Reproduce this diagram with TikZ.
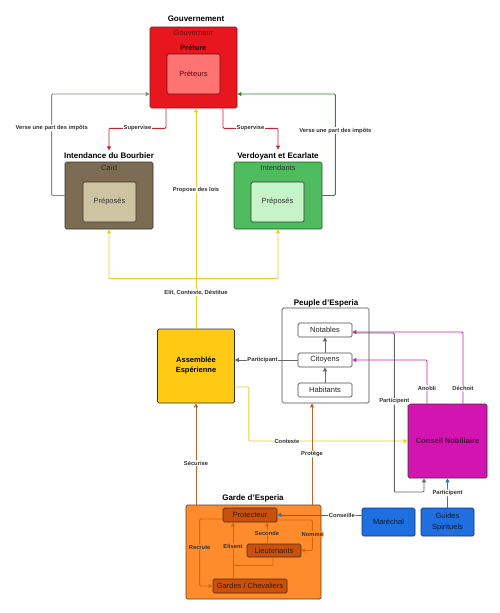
\documentclass[tikz,border=0pt]{standalone}
\usepackage{fontspec}
\setmainfont{Liberation Sans}
\usetikzlibrary{arrows.meta,calc}
\definecolor{gred}{HTML}{E8161E}
\definecolor{gredb}{HTML}{8E1014}
\definecolor{gredin}{HTML}{FF7373}
\definecolor{gbrown}{HTML}{7D6C54}
\definecolor{gbrownin}{HTML}{CFC4A2}
\definecolor{ggreen}{HTML}{4DBB5E}
\definecolor{ggreenin}{HTML}{C6F3C8}
\definecolor{gyel}{HTML}{FFC914}
\definecolor{gyline}{HTML}{EDCB2A}
\definecolor{gmag}{HTML}{D414B0}
\definecolor{gmagline}{HTML}{C225B4}
\definecolor{gblue}{HTML}{1F6FE0}
\definecolor{gblueline}{HTML}{2D6EC2}
\definecolor{gorange}{HTML}{FF8C2C}
\definecolor{gorangein}{HTML}{C9510D}
\definecolor{gorline}{HTML}{D9660A}
\definecolor{gbrline}{HTML}{B8642A}
\definecolor{gredline}{HTML}{C0282D}
\definecolor{ggreenline}{HTML}{2E8B2E}
\definecolor{ggrayline}{HTML}{8C8A7A}
\definecolor{gdark}{HTML}{333333}
\tikzset{
  tip/.style={-{Triangle[length=4pt,width=4pt]}},
  box/.style={draw, rounded corners=1.5pt, line width=0.7pt, inner sep=0pt, align=center, font=\fontsize{7.5}{9}\selectfont},
  ttl/.style={font=\bfseries\fontsize{8}{9}\selectfont, text=black, inner sep=0.5pt},
  lbl/.style={font=\bfseries\fontsize{5.8}{7}\selectfont, text=gdark, fill=white, inner sep=0.6pt},
  olbl/.style={lbl, fill=gorange},
  con/.style={line width=0.9pt, rounded corners=1pt},
}
\begin{document}
\begin{tikzpicture}[x=1pt,y=-1pt]
\useasboundingbox (0,0) rectangle (500,613);
% Gouvernement
\node[ttl] (govt) at (196,19) {Gouvernement};
\node[box, fill=gred, draw=gredb, minimum width=87pt, minimum height=81pt] (gov) at (193.5,67.5) {};
\node[font=\fontsize{7.5}{9}\selectfont, text=gredb!80!black, inner sep=0pt] (govr) at (193.5,33) {Gouverneur};
\node[font=\bfseries\fontsize{7.5}{9}\selectfont, text=black!85!red, inner sep=0pt] (pretu) at (193.5,48) {Préture};
\node[box, fill=gredin, draw=gredb!70!black, text=gredb!60!black, minimum width=53pt, minimum height=40pt] (pret) at (193.5,74) {Préteurs};
% Intendance du Bourbier
\node[ttl] (bourt) at (109,156) {Intendance du Bourbier};
\node[box, fill=gbrown, draw=gdark, minimum width=88pt, minimum height=67pt] (bour) at (109,195.5) {};
\node[font=\fontsize{7.5}{9}\selectfont, text=black!85, inner sep=0pt] (caid) at (109,168) {Caïd};
\node[box, fill=gbrownin, draw=gdark, text=black!80, minimum width=53pt, minimum height=40pt] (pre1) at (109.5,202) {Préposés};
% Verdoyant et Ecarlate
\node[ttl] (verdt) at (278,156) {Verdoyant et Ecarlate};
\node[box, fill=ggreen, draw=gdark!80!green, minimum width=88pt, minimum height=67pt] (verd) at (278,195.5) {};
\node[font=\fontsize{7.5}{9}\selectfont, text=black!80, inner sep=0pt] (inten) at (278,168) {Intendants};
\node[box, fill=ggreenin, draw=gdark, text=black!80, minimum width=53pt, minimum height=40pt] (pre2) at (277.5,202) {Préposés};
% Assemblee
\node[box, fill=gyel, draw=gdark, font=\bfseries\fontsize{7.5}{10}\selectfont, minimum width=77pt, minimum height=74pt] (ass) at (196,366) {Assemblée\\Espérienne};
% Peuple
\node[ttl] (peut) at (326,303) {Peuple d'Esperia};
\node[box, fill=white, draw=black!70, minimum width=87pt, minimum height=95pt] (peuple) at (325.5,355.5) {};
\node[box, fill=white, draw=black!70, text=black!85, minimum width=54pt, minimum height=14pt] (not) at (325,330) {Notables};
\node[box, fill=white, draw=black!70, text=black!85, minimum width=54pt, minimum height=14pt] (cit) at (325,360) {Citoyens};
\node[box, fill=white, draw=black!70, text=black!85, minimum width=54pt, minimum height=14pt] (hab) at (325,390) {Habitants};
% Conseil Nobiliaire
\node[box, fill=gmag, draw=gdark, text=gmag!35!black, font=\bfseries\fontsize{7.5}{9}\selectfont, minimum width=79pt, minimum height=74pt] (cons) at (447.5,441) {Conseil Nobiliaire};
% Marechal, Guides
\node[box, fill=gblue, draw=gblue!50!black, text=gblue!25!black, minimum width=53pt, minimum height=28pt] (mar) at (388.5,522) {Maréchal};
\node[box, fill=gblue, draw=gblue!50!black, text=gblue!25!black, font=\fontsize{7.5}{11}\selectfont, minimum width=53pt, minimum height=28pt] (gui) at (447.5,522) {Guides\\Spirituels};
% Garde
\node[ttl] (gardet) at (253,498) {Garde d'Esperia};
\node[box, fill=gorange, draw=gorange!40!black, minimum width=135pt, minimum height=94pt] (garde) at (253.5,552) {};
\node[box, fill=gorangein, draw=gorange!30!black, text=gorange!20!black, minimum width=54pt, minimum height=14pt] (prot) at (250,515) {Protecteur};
\node[box, fill=gorangein, draw=gorange!30!black, text=gorange!20!black, minimum width=54pt, minimum height=13pt] (lieu) at (274,550.5) {Lieutenants};
\node[box, fill=gorangein, draw=gorange!30!black, text=gorange!20!black, minimum width=74pt, minimum height=14pt] (gard) at (250,586) {Gardes / Chevaliers};

% Red supervise
\draw[con, gredline, tip] ([xshift=-27.5pt]gov.south) -- ++(0,20) -| node[lbl, pos=0.25] {Supervise} ([yshift=2pt]bourt.north);
\draw[con, gredline, tip] ([xshift=29.5pt]gov.south) -- ++(0,20) -| node[lbl, pos=0.25] {Supervise} ([yshift=2pt]verdt.north);
% Impots
\draw[con, ggrayline, tip] (bour.west) -- ++(-13,0) |- node[lbl, pos=0.333] {Verse une part des impôts} ([yshift=-26.5pt]gov.west);
\draw[con, ggreenline, tip] (verd.east) -- ++(13,0) |- node[lbl, pos=0.32] {Verse une part des impôts} ([yshift=-26.5pt]gov.east);
% Yellow
\coordinate (yj) at ([yshift=50pt]ass.north);
\draw[con, gyline] (ass.north) -- (yj);
\node[lbl] (elit) at ($(ass.north)!0.72!(yj)$) {Elit, Conteste, Déstitue};
\draw[con, gyline, tip] (yj) -| (bour.south);
\draw[con, gyline, tip] (yj) -| (verd.south);
\draw[con, gyline, tip] (yj) -- (yj |- gov.south);
\node[lbl] (prop) at ($(yj)!0.52!(yj |- gov.south)$) {Propose des lois};
\draw[con, gyline, tip] ([yshift=-21pt]ass.east) -- ++(14,0) |- node[lbl, pos=0.62] {Conteste} (cons.west);
% Peuple
\draw[con, black!60, tip] (cit.west) -- node[lbl, pos=0.56] {Participant} (cit.west -| ass.east);
\draw[con, black!60, tip] (hab.north) -- (cit.south);
\draw[con, black!60, tip] (cit.north) -- (not.south);
% Magenta
\draw[con, gmagline, tip] ([xshift=-20.5pt]cons.north) |- node[lbl, pos=0.18] {Anobli} (cit.east);
\draw[con, gmagline, tip] ([xshift=15.5pt]cons.north) |- node[lbl, pos=0.105] {Déchoit} ([yshift=-2pt]not.east);
% Gray participent
\draw[con, black!60, tip] ([yshift=-3pt]not.east) -- ++(42,0) -- node[lbl, pos=0.43] {Participent} ++(0,159) -| ([xshift=-23.5pt]cons.south);
% Blue
\draw[con, gblueline, tip] (gui.north) -- node[lbl] {Participent} (cons.south);
\draw[con, gblueline, tip] ([yshift=7pt]mar.west) -- node[lbl, pos=0.235] {Conseille} (prot.east);
% Brown verticals
\draw[con, gbrline, tip] (ass.south |- garde.north) -- node[lbl, pos=0.41] {Sécurise} (ass.south);
\coordinate (pp) at ([xshift=-13.5pt]peuple.south);
\draw[con, gbrline, tip] (pp |- garde.north) -- node[lbl, pos=0.5] {Protège} (pp);
% Garde inner
\draw[con, gorline, tip] ([yshift=-4pt]prot.west) -- ++(-23,0) |- node[olbl, pos=0.21] {Recrute} (gard.west);
\draw[con, gorline, tip] ([xshift=-17pt]gard.north) -- node[olbl, pos=0.58] {Elisent} ([xshift=-17pt]prot.south);
\draw[con, gorline] ([xshift=-1pt]lieu.south) -- ++(0,8) -- ++(-40,0);
\draw[con, gorline, tip] ([xshift=-7pt]lieu.north) -- node[olbl] {Seconde} ([xshift=17pt]prot.south);
\draw[con, gorline, tip] ([yshift=-5pt]prot.east) -- ++(35,0) |- node[olbl, pos=0.23] {Nomme} (lieu.east);
\end{tikzpicture}
\end{document}
